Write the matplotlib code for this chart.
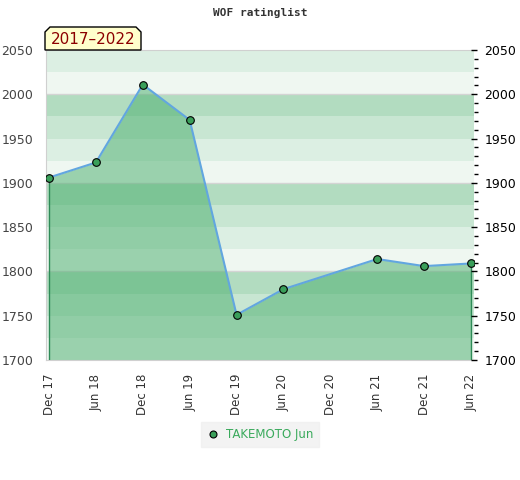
import matplotlib.pyplot as plt
import numpy as np
from matplotlib.patches import Polygon

dates = ['Dec 17', 'Jun 18', 'Dec 18', 'Jun 19', 'Dec 19', 'Jun 20', 'Dec 20', 'Jun 21', 'Dec 21', 'Jun 22']
rating = [1906, 1923, 2011, 1971, 1751, 1780, np.nan, 1814, 1806, 1809]
player = 'TAKEMOTO Jun'
period = '2017\u20132022'
band_colors = ['#b2dcc0', '#c8e6d2', '#dcefe3', '#eff7f1']

fig = plt.figure(figsize=(5.2, 4.8), dpi=100)
ax = fig.add_axes([46/520, 1-360/480, 428/520, 310/480])
ymin, ymax = 1700, 2050

# horizontal bands, 25 points each, darkest band just below each hundred
for lo in range(ymax, ymin, -25):
    k = ((2100 - lo) // 25) % 4
    ax.axhspan(lo - 25, lo, color=band_colors[k], lw=0, zorder=0)
for g in [1800, 1900, 2000]:
    ax.axhline(g, color='#d4d4d4', lw=1, zorder=1)

x = np.arange(len(dates))
r = np.array(rating, dtype=float)
ok = ~np.isnan(r)
xs, ys = x[ok], r[ok]

ax.fill_between(xs, ys, ymin, color='#47ad6b', alpha=0.5, lw=0, zorder=2)
ax.vlines([xs[0], xs[-1]], ymin, [ys[0], ys[-1]], color='#2e8b57', lw=1, zorder=3)
ax.plot(xs, ys, color='#62a6e0', lw=1.5, zorder=4)
ax.plot(xs, ys, 'o', ms=5.5, mfc='#3a9f5a', mec='black', mew=0.8, zorder=5)

ax.set_xlim(-0.064, 9.064)
ax.set_ylim(ymin, ymax)
ax.set_xticks(x)
ax.set_xticklabels(dates, rotation=90, fontsize=8.5, color='#333333')
ax.set_yticks(range(1700, 2051, 50))
ax.tick_params(axis='y', length=0, pad=9, labelsize=9, labelcolor='#444444')
ax.tick_params(axis='x', length=0, pad=10)
for s in ['left', 'bottom', 'top']:
    ax.spines[s].set_color('#d0d0d0')
ax.spines['right'].set_visible(False)

ax2 = ax.twinx()
ax2.set_ylim(ymin, ymax)
ax2.set_yticks(range(1700, 2051, 50))
ax2.set_yticks(range(1700, 2051, 10), minor=True)
ax2.tick_params(axis='y', which='major', length=5, width=1, direction='inout', pad=5, labelsize=9)
ax2.tick_params(axis='y', which='minor', length=3, width=1, direction='out')
for s in ax2.spines.values():
    s.set_visible(False)

fig.text(0.5, 1-13/480, 'WOF ratinglist', ha='center', va='center',
         family='DejaVu Sans Mono', fontsize=8, fontweight='bold', color='#333333')

# period tag with clipped top corners
px = np.array([45, 45, 50, 136, 141, 141]) / 520
py = 1 - np.array([50, 32, 27, 27, 32, 50]) / 480
fig.patches.append(Polygon(np.column_stack([px, py]), closed=True, transform=fig.transFigure,
                           fc='#ffffcc', ec='black', lw=1, zorder=10))
fig.text(93/520, 1-40/480, period, ha='center', va='center', fontsize=11,
         color='#8b0000', zorder=11)

leg = ax.legend([plt.Line2D([], [], ls='none', marker='o', ms=5, mfc='#3a9f5a', mec='black', mew=0.8)],
                [player], loc='center', bbox_to_anchor=(0.5, -0.24), frameon=True,
                fontsize=8.5, handlelength=1, handletextpad=0.6, borderpad=0.2, borderaxespad=0)
leg.get_frame().set_facecolor('#f0f0f0')
leg.get_frame().set_edgecolor('#f0f0f0')
leg.get_frame().set_boxstyle('square')
for t in leg.get_texts():
    t.set_color('#3aaa5c')

fig.savefig('out.png', dpi=100)
